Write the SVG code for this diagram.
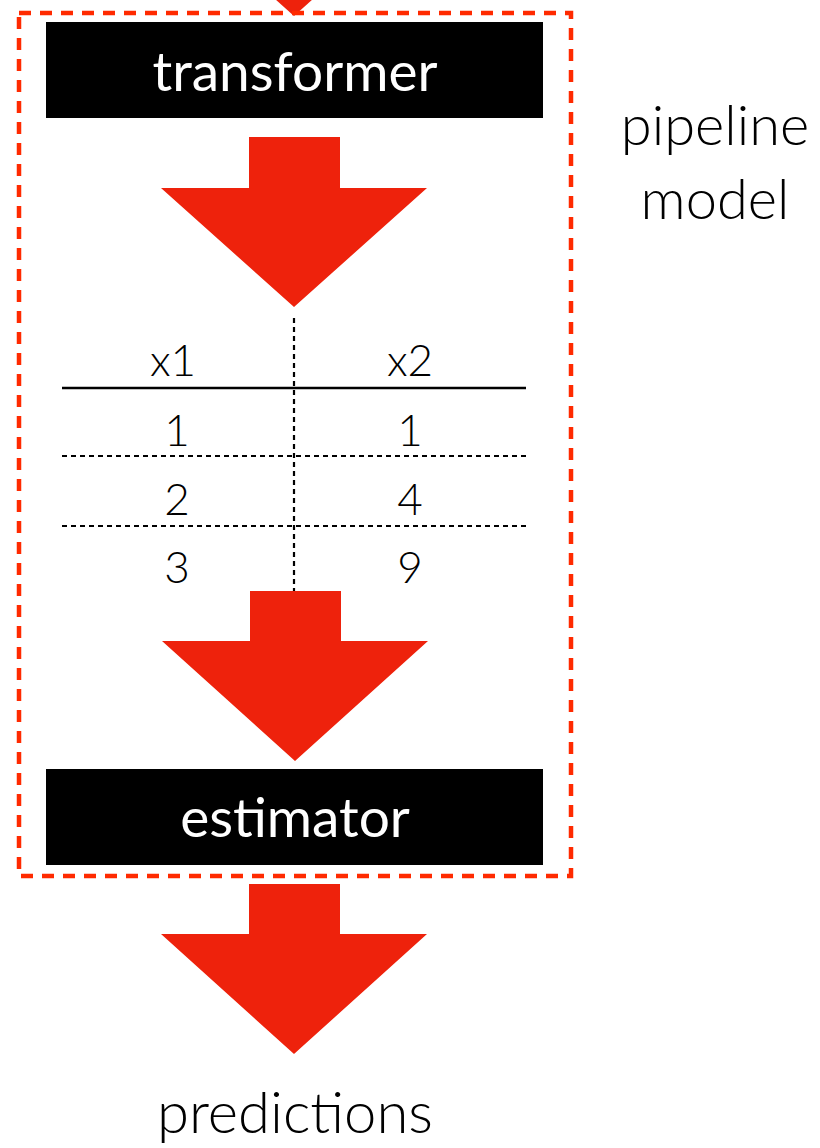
<svg xmlns="http://www.w3.org/2000/svg" width="820" height="1148" viewBox="0 0 820 1148">
<defs>
<style>
.arrow{fill:#ee220c;}
.box{fill:#000;}
.boxtxt{fill:#fff;font-family:Lato,"Noto Sans",sans-serif;font-size:55px;text-anchor:middle;}
.lbl{fill:#000;font-family:Lato,"Noto Sans",sans-serif;font-weight:300;text-anchor:middle;}
.cell{font-size:44px;}
.dot{stroke:#000;stroke-width:2.2;stroke-dasharray:5 4;fill:none;}
</style>
</defs>
<rect width="820" height="1148" fill="#fff"/>
<g id="connectors">
<polygon id="arrow-in" class="arrow" points="161,-103 427,-103 294,16"/>
<polygon id="arrow-1" class="arrow" points="249,137 340,137 340,188 427,188 294,307 161,188 249,188"/>
<polygon id="arrow-2" class="arrow" points="250,591 341,591 341,641 428,641 295,761 162,641 250,641"/>
<polygon id="arrow-3" class="arrow" points="249,884 340,884 340,934 427,934 294,1054 161,934 249,934"/>
</g>
<g id="pipeline">
<rect x="19" y="13" width="552" height="863" fill="none" stroke="#ff2a00" stroke-width="4.5" stroke-dasharray="12 9"/>
<text class="lbl" x="715" y="145" font-size="56">pipeline</text>
<text class="lbl" x="715" y="219" font-size="56">model</text>
</g>
<g id="transformer">
<rect class="box" x="46" y="22" width="497" height="96"/>
<text class="boxtxt" x="295" y="91">transformer</text>
</g>
<g id="table">
<line class="dot" x1="294" y1="318" x2="294" y2="591"/>
<line x1="62" y1="388" x2="526" y2="388" stroke="#000" stroke-width="2.5"/>
<line class="dot" x1="62" y1="456" x2="526" y2="456"/>
<line class="dot" x1="62" y1="526" x2="526" y2="526"/>
<text class="lbl cell" x="173" y="376">x1</text>
<text class="lbl cell" x="410" y="376">x2</text>
<text class="lbl cell" x="177" y="446">1</text>
<text class="lbl cell" x="410" y="446">1</text>
<text class="lbl cell" x="177" y="515">2</text>
<text class="lbl cell" x="410" y="515">4</text>
<text class="lbl cell" x="177" y="583">3</text>
<text class="lbl cell" x="410" y="583">9</text>
</g>
<g id="estimator">
<rect class="box" x="46" y="769" width="497" height="96"/>
<text class="boxtxt" x="295" y="837">estimator</text>
</g>
<g id="predictions">
<text class="lbl" x="295" y="1133" font-size="58">predictions</text>
</g>
</svg>
